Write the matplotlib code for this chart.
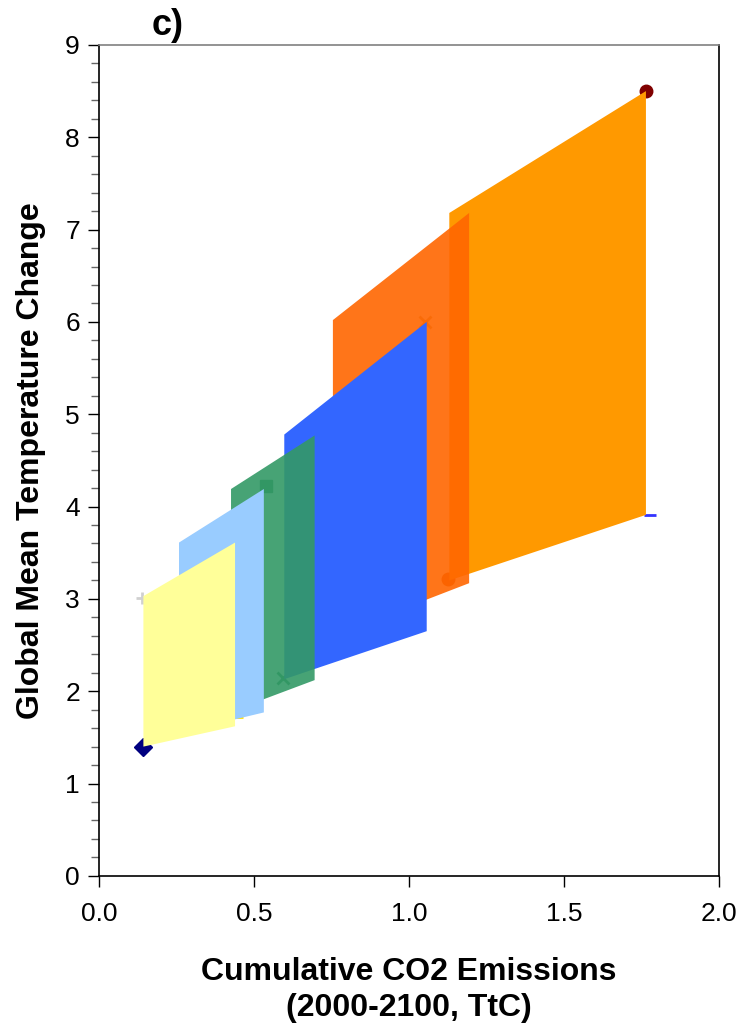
import matplotlib
matplotlib.use("Agg")
import matplotlib.pyplot as plt
from matplotlib.patches import Polygon
from matplotlib.ticker import MultipleLocator

plt.rcParams["font.family"] = ["Liberation Sans", "DejaVu Sans"]

# Scenario ranges: x extent (left/right) and temperature at the four corners.
x_left = [1.130, 0.754, 0.597, 0.425, 0.257, 0.142]
x_right = [1.765, 1.194, 1.057, 0.695, 0.531, 0.438]
t_top_left = [7.18, 6.02, 4.78, 4.19, 3.61, 3.03]
t_top_right = [8.50, 7.18, 6.00, 4.77, 4.19, 3.61]
t_bot_left = [3.20, 2.60, 2.13, 1.78, 1.55, 1.40]
t_bot_right = [3.91, 3.17, 2.65, 2.12, 1.77, 1.62]
colors = ["#FF9900", "#FF6600", "#3366FF", "#339966", "#99CCFF", "#FFFF99"]
alphas = [1.0, 0.9, 1.0, 0.9, 1.0, 1.0]

# Endpoint markers left over from the scatter series.
mk_x = [1.765, 1.127, 1.778, 1.050, 0.594, 0.537, 0.142, 0.136, 0.443]
mk_y = [8.50, 3.22, 3.91, 6.00, 2.14, 4.22, 1.40, 3.01, 1.72]
mk_style = ["o", "o", "_", "x", "x", "s", "D", "+", "_"]
mk_color = ["#800000", "#E05000", "#3333FF", "#C8A050", "#2E8B57",
            "#2E8B57", "#000080", "#D0D0D0", "#FFE000"]

fig = plt.figure(figsize=(7.42, 10.28), dpi=100)
ax = fig.add_axes([0.134, 0.148, 0.8346, 0.8083])

for x, y, m, c in zip(mk_x, mk_y, mk_style, mk_color):
    ax.plot(x, y, marker=m, color=c, ms=9, mew=2 if m in "x+_" else 1,
            ls="none", zorder=1)

for i in range(len(x_left)):
    pts = [(x_left[i], t_bot_left[i]), (x_left[i], t_top_left[i]),
           (x_right[i], t_top_right[i]), (x_right[i], t_bot_right[i])]
    ax.add_patch(Polygon(pts, closed=True, facecolor=colors[i],
                         edgecolor="none", alpha=alphas[i], zorder=2 + i))

ax.set_xlim(0, 2.0)
ax.set_ylim(0, 9)
ax.xaxis.set_major_locator(MultipleLocator(0.5))
ax.yaxis.set_major_locator(MultipleLocator(1))
ax.yaxis.set_minor_locator(MultipleLocator(0.2))
ax.xaxis.set_major_formatter(plt.FormatStrFormatter("%.1f"))

ax.tick_params(axis="both", which="major", direction="out", length=8,
               width=1, labelsize=19, pad=6)
ax.tick_params(axis="y", which="minor", direction="out", length=6,
               width=1, color="#666666")
ax.tick_params(axis="x", pad=11)

ax.spines["top"].set_color("#808080")
for s in ["left", "right", "bottom"]:
    ax.spines[s].set_color("black")
for s in ax.spines.values():
    s.set_linewidth(1.2)

ax.set_xlabel("Cumulative CO2 Emissions\n(2000-2100, TtC)", fontsize=23,
              fontweight="bold", labelpad=22, linespacing=1.25)
ax.set_ylabel("Global Mean Temperature Change", fontsize=23,
              fontweight="bold", labelpad=14)
fig.text(0.204, 0.975, "c)", fontsize=26, fontweight="bold",
         ha="left", va="center")

fig.savefig("out.png", dpi=100, facecolor="white")
